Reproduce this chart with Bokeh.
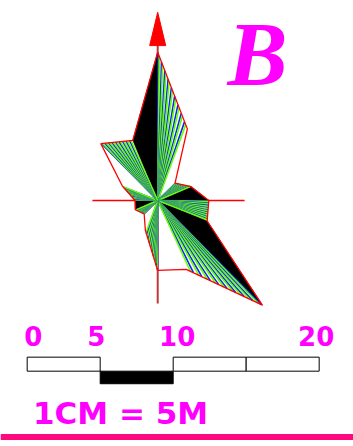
import numpy as np
from bokeh.plotting import figure
from bokeh.models import Range1d, Span
from bokeh.core.properties import value
from bokeh.embed import file_html
from bokeh.resources import INLINE

# ---------------- data ----------------
directions = ["N", "NNE", "NE", "ENE", "E", "ESE", "SE", "SSE",
              "S", "SSW", "SW", "WSW", "W", "WNW", "NW", "NNW"]
bearings = [0.0, 22.5, 45.0, 67.5, 90.0, 112.5, 135.0, 157.5,
            180.0, 202.5, 225.0, 247.5, 270.0, 292.5, 315.0, 337.5]
radii = [10.16, 5.31, 1.68, 2.48, 3.50, 3.67, 10.14, 5.10,
         4.79, 2.21, 1.31, 1.66, 1.55, 2.63, 5.51, 4.46]
# fill of the sector between direction i and direction i+1
sector_fill = ["hatch", "white", "hatch", "black", "hatch", "black", "hatch", "white",
               "hatch", "white", "hatch", "black", "hatch", "white", "hatch", "black"]

scale_ticks = [0, 5, 10, 15, 20]
scale_labels = ["0", "5", "10", "", "20"]
scale_rows = ["top", "bottom", "top", "top"]
scale_colors = ["white", "black", "white", "white"]
title_text = "B"
scale_text = "1CM = 5M"

# ---------------- layout / style ----------------
W, H = 353, 446
PX = 14.6              # pixels per data unit
CX, CY = 157.2, 200.0  # centre of rose in canvas pixels
x_range = Range1d(-CX / PX, (W - CX) / PX)
y_range = Range1d((CY - H) / PX, CY / PX)

RED = "#ff0000"
BLUE = "#0a28f0"
GREEN = "#66ff00"
MAGENTA = "#ff00ff"
PINK = "#ff0a7e"

p = figure(width=W, height=H, x_range=x_range, y_range=y_range,
           output_backend="svg", toolbar_location=None,
           x_axis_location=None, y_axis_location=None, min_border=0)
p.grid.visible = False
p.outline_line_color = None
p.background_fill_color = "white"

b = np.radians(bearings)
r = np.array(radii)
vx = r * np.sin(b)
vy = r * np.cos(b)
n = len(r)

# axis cross
rmax = max(radii)
p.segment(x0=[-4.47], y0=[0], x1=[5.95], y1=[0], line_color=RED, line_width=1.5)
p.segment(x0=[0], y0=[rmax + 0.45], x1=[0], y1=[-7.05], line_color="#c03838", line_width=2)

# black sectors
bx, by = [], []
for i in range(n):
    j = (i + 1) % n
    if sector_fill[i] == "black":
        bx.append([0, vx[i], vx[j]])
        by.append([0, vy[i], vy[j]])
p.patches(bx, by, fill_color="black", line_color="black", line_width=0.5)

# hatched sectors: fan of lines from centre to outer edge
NP = 9
hx0, hy0, hx1, hy1, hc = [], [], [], [], []
for i in range(n):
    j = (i + 1) % n
    if sector_fill[i] != "hatch":
        continue
    for k in range(NP):
        for t, c in (((k + 0.15) / NP, BLUE), ((k + 0.5) / NP, GREEN)):
            hx0.append(0); hy0.append(0)
            hx1.append(vx[i] + t * (vx[j] - vx[i]))
            hy1.append(vy[i] + t * (vy[j] - vy[i]))
            hc.append(c)
p.segment(x0=hx0, y0=hy0, x1=hx1, y1=hy1, line_color=hc, line_width=1.6)

# outline
p.patch(list(vx) + [vx[0]], list(vy) + [vy[0]], fill_alpha=0, line_color=RED, line_width=1.3)

# north arrow
ab = rmax + 0.45
p.patch([-0.55, 0.55, 0], [ab, ab, ab + 2.28], fill_color=RED, line_color=RED)

# scale bar
SX0 = -8.94
top_y0, top_y1 = -10.73, -11.69
bot_y1 = -12.55
qs_l, qs_r, qs_t, qs_b = [], [], [], []
for k in range(len(scale_rows)):
    qs_l.append(SX0 + scale_ticks[k])
    qs_r.append(SX0 + scale_ticks[k + 1])
    if scale_rows[k] == "top":
        qs_t.append(top_y0); qs_b.append(top_y1)
    else:
        qs_t.append(top_y1); qs_b.append(bot_y1)
p.quad(left=qs_l, right=qs_r, top=qs_t, bottom=qs_b,
       fill_color=scale_colors, line_color="black", line_width=1)

lab_dx = [6, -4, 4, 0, -3]
p.text(x=[SX0 + t for t in scale_ticks], y=[-9.25] * len(scale_ticks), text=scale_labels,
       x_offset=lab_dx, text_font=value("DejaVu Sans"), text_font_style="bold",
       text_font_size="26px", text_color=MAGENTA, text_align="center",
       text_baseline="middle")

p.text(x=[SX0 + 0.4], y=[-14.55], text=[scale_text],
       text_font=value("DejaVu Sans"), text_font_style="bold",
       text_font_size="31px", text_color=MAGENTA, text_align="left",
       text_baseline="middle")

# title letter
p.text(x=[6.84], y=[10.0], text=[title_text],
       text_font=value("Liberation Serif"), text_font_style="bold italic",
       text_font_size="90px", text_color=MAGENTA, text_align="center",
       text_baseline="middle")

# bottom rule
p.add_layout(Span(location=-16.2, dimension="width", line_color=PINK, line_width=6))

open("out.html", "w").write(file_html(p, INLINE))
